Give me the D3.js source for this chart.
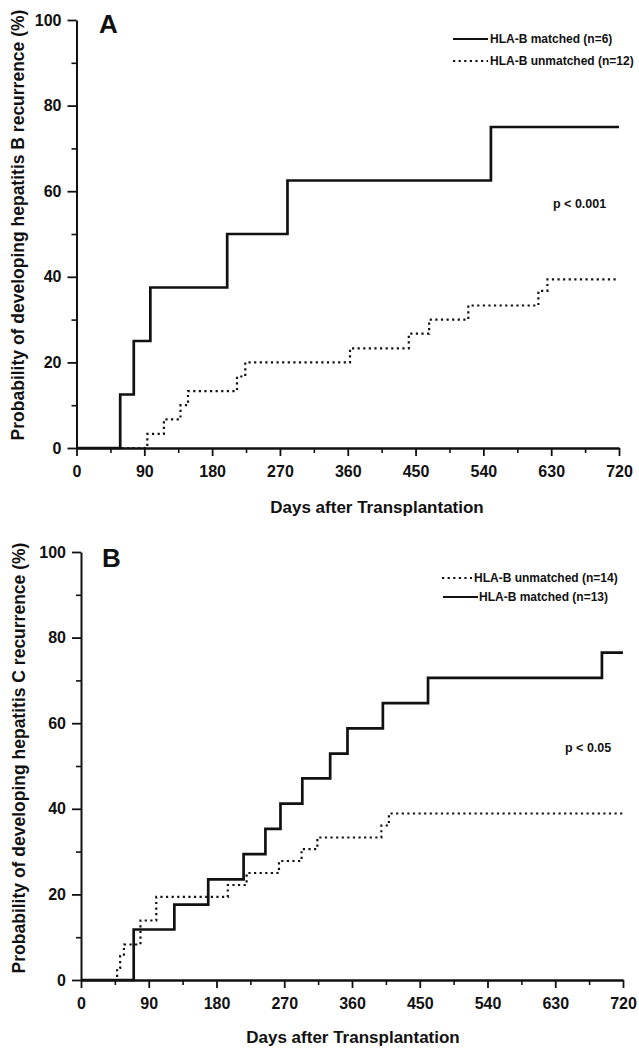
<!DOCTYPE html>
<html>
<head>
<meta charset="utf-8">
<script src="https://cdn.jsdelivr.net/npm/d3@7"></script>
<style>
  html, body { margin: 0; padding: 0; background: #fff; }
  svg { display: block; }
  text { font-family: "Liberation Sans", Arial, Helvetica, sans-serif; font-weight: bold; fill: #111; }
</style>
</head>
<body>
<svg id="chart" width="639" height="1050"></svg>
<script>
// ---- Data ----
const xTicks = [0, 90, 180, 270, 360, 450, 540, 630, 720];
const xMinorTicks = [45, 135, 225, 315, 405, 495, 585, 675];
const yTicks = [0, 20, 40, 60, 80, 100];
const yMinorTicks = [10, 30, 50, 70, 90];

// Panel A: hepatitis B
const aMatchedDays   = [58, 76, 98, 200, 280, 550];
const aMatchedVals   = [12.5, 25, 37.5, 50, 62.5, 75];
const aUnmatchedDays = [94, 116, 138, 148, 213, 224, 363, 441, 468, 520, 613, 625];
const aUnmatchedVals = [3.3, 6.7, 10, 13.3, 16.7, 20, 23.3, 26.7, 30, 33.3, 36.7, 39.4];

// Panel B: hepatitis C
const bMatchedDays   = [70, 124, 169, 216, 245, 265, 294, 331, 354, 401, 461, 692];
const bMatchedVals   = [11.8, 17.6, 23.5, 29.4, 35.3, 41.2, 47.1, 52.9, 58.8, 64.7, 70.6, 76.5];
const bUnmatchedDays = [48, 52, 57, 79, 100, 195, 220, 263, 293, 314, 399, 409];
const bUnmatchedVals = [2.8, 5.6, 8.3, 13.9, 19.4, 22.2, 25, 27.8, 30.6, 33.3, 36.1, 38.9];

const xTitle = "Days after Transplantation";
const panels = [
  {
    letter: "A", yTitle: "Probability of developing hepatitis B recurrence (%)",
    xRange: [76.5, 619], yRange: [448, 20],
    matched: [aMatchedDays, aMatchedVals], unmatched: [aUnmatchedDays, aUnmatchedVals],
    legend: [
      {label: "HLA-B matched (n=6)", dotted: false, x1: 453, x2: 488, tx: 490, y: 39},
      {label: "HLA-B unmatched (n=12)", dotted: true, x1: 453, x2: 488, tx: 490, y: 61}
    ],
    pText: "p < 0.001", px: 553, py: 204,
    letterX: 99, letterY: 33,
    xTitleX: 377, xTitleY: 513,
    yTitleX: 24, yTitleY: 225
  },
  {
    letter: "B", yTitle: "Probability of developing hepatitis C recurrence (%)",
    xRange: [81, 623], yRange: [980, 552],
    matched: [bMatchedDays, bMatchedVals], unmatched: [bUnmatchedDays, bUnmatchedVals],
    legend: [
      {label: "HLA-B unmatched (n=14)", dotted: true, x1: 442, x2: 472, tx: 474, y: 578},
      {label: "HLA-B matched (n=13)", dotted: false, x1: 443, x2: 478, tx: 479, y: 597}
    ],
    pText: "p < 0.05", px: 565, py: 748,
    letterX: 102, letterY: 567,
    xTitleX: 353, xTitleY: 1043,
    yTitleX: 25, yTitleY: 758
  }
];

const svg = d3.select("#chart");
svg.append("rect").attr("width", 639).attr("height", 1050).attr("fill", "#fff");

const DOT = "2.2,3.4";
const INK = "#111";

panels.forEach(p => {
  const x = d3.scaleLinear().domain([0, 720]).range(p.xRange);
  const y = d3.scaleLinear().domain([0, 100]).range(p.yRange);
  const g = svg.append("g");

  // minor ticks
  g.append("g").attr("transform", `translate(0,${p.yRange[0]})`)
    .call(d3.axisBottom(x).tickValues(xMinorTicks).tickSize(5).tickSizeOuter(0).tickFormat(""))
    .call(s => s.select(".domain").remove())
    .call(s => s.selectAll("line").attr("stroke", INK).attr("stroke-width", 1.6));
  g.append("g").attr("transform", `translate(${p.xRange[0]},0)`)
    .call(d3.axisLeft(y).tickValues(yMinorTicks).tickSize(5).tickSizeOuter(0).tickFormat(""))
    .call(s => s.select(".domain").remove())
    .call(s => s.selectAll("line").attr("stroke", INK).attr("stroke-width", 1.6));

  // major axes
  const xa = g.append("g").attr("transform", `translate(0,${p.yRange[0]})`)
    .call(d3.axisBottom(x).tickValues(xTicks).tickSize(8).tickPadding(10).tickSizeOuter(0).tickFormat(d3.format("d")));
  xa.select(".domain").attr("stroke", INK).attr("stroke-width", 2.4);
  xa.selectAll("line").attr("stroke", INK).attr("stroke-width", 1.8);
  xa.selectAll("text").style("font-size", "16px").attr("fill", INK);

  const ya = g.append("g").attr("transform", `translate(${p.xRange[0]},0)`)
    .call(d3.axisLeft(y).tickValues(yTicks).tickSize(9).tickPadding(6).tickSizeOuter(0).tickFormat(d3.format("d")));
  ya.select(".domain").attr("stroke", INK).attr("stroke-width", 2);
  ya.selectAll("line").attr("stroke", INK).attr("stroke-width", 1.8);
  ya.selectAll("text").style("font-size", "16px").attr("fill", INK);

  // curves
  const line = d3.line().x(d => x(d[0])).y(d => y(d[1])).curve(d3.curveStepAfter);
  const pts = (days, vals) => {
    const arr = [[0, 0]];
    days.forEach((d, i) => arr.push([d, vals[i]]));
    arr.push([720, vals[vals.length - 1]]);
    return arr;
  };
  g.append("path").datum(pts(...p.unmatched)).attr("d", line)
    .attr("fill", "none").attr("stroke", INK).attr("stroke-width", 2.2)
    .attr("stroke-dasharray", DOT);
  g.append("path").datum(pts(...p.matched)).attr("d", line)
    .attr("fill", "none").attr("stroke", INK).attr("stroke-width", 2.7)
    .attr("stroke-linejoin", "miter");

  // legend
  p.legend.forEach(l => {
    g.append("line").attr("x1", l.x1).attr("x2", l.x2).attr("y1", l.y).attr("y2", l.y)
      .attr("stroke", INK).attr("stroke-width", l.dotted ? 2 : 1.8)
      .attr("stroke-dasharray", l.dotted ? DOT : null);
    g.append("text").attr("x", l.tx).attr("y", l.y).attr("dy", "0.35em")
      .style("font-size", "12px").text(l.label);
  });

  // p value
  g.append("text").attr("x", p.px).attr("y", p.py).attr("dy", "0.35em")
    .style("font-size", "12.5px").text(p.pText);

  // panel letter
  g.append("text").attr("x", p.letterX).attr("y", p.letterY)
    .style("font-size", "26px").text(p.letter);

  // axis titles
  g.append("text").attr("x", p.xTitleX).attr("y", p.xTitleY).attr("text-anchor", "middle")
    .style("font-size", "17px").text(xTitle);
  g.append("text").attr("transform", `translate(${p.yTitleX},${p.yTitleY}) rotate(-90)`)
    .attr("text-anchor", "middle").style("font-size", "17.5px").text(p.yTitle);
});
</script>
</body>
</html>
